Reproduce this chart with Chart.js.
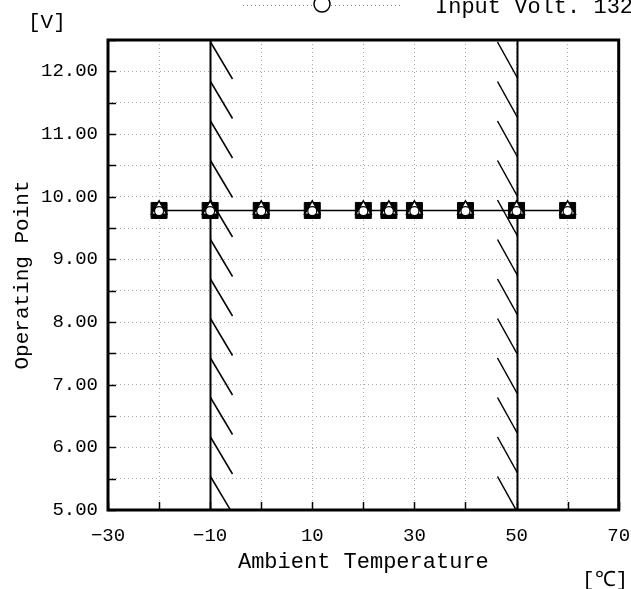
<!DOCTYPE html>
<html>
<head>
<meta charset="utf-8">
<script src="https://cdn.jsdelivr.net/npm/chart.js@4.4.1/dist/chart.umd.min.js"></script>
<style>
  html, body { margin: 0; padding: 0; background: #fff; }
  #wrap { width: 631px; height: 589px; position: relative; }
</style>
</head>
<body>
<div id="wrap"><canvas id="chart" width="631" height="589"></canvas></div>
<script>
// Ambient temperature points [°C]
const temps = [-20, -10, 0, 10, 20, 25, 30, 40, 50, 60];
// Operating point [V] for each input voltage
const voltSquare = [9.78, 9.78, 9.78, 9.78, 9.78, 9.78, 9.78, 9.78, 9.78, 9.78];
const voltTriangle = [9.79, 9.79, 9.79, 9.79, 9.79, 9.79, 9.79, 9.79, 9.79, 9.79];
const voltCircle = [9.77, 9.77, 9.77, 9.77, 9.77, 9.77, 9.77, 9.77, 9.77, 9.77];
// Guaranteed temperature limits (hatched lines)
const limits = [-10, 50];
const xTickLabels = [-30, -10, 10, 30, 50, 70];
const yTickLabels = [5, 6, 7, 8, 9, 10, 11, 12];

const FONT = '"Liberation Mono", "DejaVu Sans Mono", monospace';

function toPoints(values) {
  return temps.map((t, i) => ({ x: t, y: values[i] }));
}

// Frame, inward ticks, hatched limit lines, legend and unit labels
const decorPlugin = {
  id: 'decor',
  beforeDatasetsDraw(chart) {
    const { ctx, chartArea: a, scales: { x } } = chart;
    ctx.save();
    ctx.strokeStyle = '#000';
    // limit lines with hatches
    limits.forEach((lim, idx) => {
      const px = Math.round(x.getPixelForValue(lim)) + 0.5;
      ctx.lineWidth = 2;
      ctx.beginPath();
      ctx.moveTo(px, a.top);
      ctx.lineTo(px, a.bottom);
      ctx.stroke();
      ctx.lineWidth = 1.5;
      ctx.save();
      ctx.beginPath();
      ctx.rect(a.left, a.top, a.right - a.left, a.bottom - a.top);
      ctx.clip();
      for (let yy = a.top + 2; yy < a.bottom; yy += 39.5) {
        ctx.beginPath();
        if (idx === 0) {
          ctx.moveTo(px, yy);
          ctx.lineTo(px + 22, yy + 37);
        } else {
          ctx.moveTo(px - 20, yy);
          ctx.lineTo(px, yy + 36);
        }
        ctx.stroke();
      }
      ctx.restore();
    });
    ctx.restore();
  },
  afterDraw(chart) {
    const { ctx, chartArea: a, scales: { x, y } } = chart;
    ctx.save();
    ctx.strokeStyle = '#000';
    // inward ticks
    ctx.lineWidth = 1.5;
    x.ticks.forEach(t => {
      const px = Math.round(x.getPixelForValue(t.value)) + 0.5;
      ctx.beginPath();
      ctx.moveTo(px, a.bottom);
      ctx.lineTo(px, a.bottom - 8);
      ctx.stroke();
    });
    y.ticks.forEach(t => {
      const py = Math.round(y.getPixelForValue(t.value)) + 0.5;
      ctx.beginPath();
      ctx.moveTo(a.left, py);
      ctx.lineTo(a.left + 8, py);
      ctx.stroke();
    });
    // frame
    ctx.lineWidth = 3;
    ctx.strokeRect(a.left, a.top, a.right - a.left, a.bottom - a.top);

    // partial legend at the top
    ctx.lineWidth = 1;
    ctx.strokeStyle = '#888';
    ctx.setLineDash([1, 3]);
    ctx.beginPath();
    ctx.moveTo(243, 5.5);
    ctx.lineTo(403, 5.5);
    ctx.stroke();
    ctx.setLineDash([]);
    ctx.strokeStyle = '#000';
    ctx.lineWidth = 1.5;
    ctx.fillStyle = '#fff';
    ctx.beginPath();
    ctx.arc(322, 4, 8, 0, Math.PI * 2);
    ctx.fill();
    ctx.stroke();
    ctx.fillStyle = '#000';
    ctx.font = '22px ' + FONT;
    ctx.textBaseline = 'alphabetic';
    ctx.textAlign = 'left';
    ctx.fillText('Input Volt. 132V', 435, 13);

    // units
    ctx.font = '21px ' + FONT;
    ctx.fillText('[V]', 28, 28);
    ctx.fillText('[℃]', 582, 586);
    ctx.restore();
  }
};

new Chart(document.getElementById('chart'), {
  type: 'scatter',
  data: {
    datasets: [
      {
        label: 'Square',
        data: toPoints(voltSquare),
        order: 3,
        showLine: true,
        borderWidth: 1.5,
        borderColor: '#000',
        pointStyle: 'rect',
        pointRadius: 11.3,
        pointBorderWidth: 1,
        pointBackgroundColor: '#000',
        pointBorderColor: '#000'
      },
      {
        label: 'Triangle',
        data: toPoints(voltTriangle),
        order: 2,
        showLine: false,
        pointStyle: 'triangle',
        pointRadius: 9,
        pointBorderWidth: 1.5,
        pointBackgroundColor: '#fff',
        pointBorderColor: '#000'
      },
      {
        label: 'Circle',
        data: toPoints(voltCircle),
        order: 1,
        showLine: false,
        pointStyle: 'circle',
        pointRadius: 4.5,
        pointBorderWidth: 1.2,
        pointBackgroundColor: '#fff',
        pointBorderColor: '#000'
      }
    ]
  },
  options: {
    responsive: false,
    animation: false,
    layout: { padding: { top: 40, right: 12, left: 0, bottom: 0 } },
    plugins: {
      legend: { display: false },
      tooltip: { enabled: false }
    },
    scales: {
      x: {
        type: 'linear',
        min: -30,
        max: 70,
        afterFit(scale) {
          scale.height = 79;
          scale.paddingLeft = 0;
          scale.paddingRight = 0;
        },
        ticks: {
          stepSize: 10,
          padding: 15,
          color: '#000',
          font: { family: FONT, size: 19 },
          maxRotation: 0,
          autoSkip: false,
          callback: v => xTickLabels.includes(v) ? String(v).replace('-', '−') : ''
        },
        grid: {
          color: '#aaa',
          lineWidth: 1,
          tickLength: 0,
          drawTicks: false
        },
        border: { display: false, dash: [1, 3] },
        title: {
          display: true,
          text: 'Ambient Temperature',
          color: '#000',
          font: { family: FONT, size: 22 },
          padding: { top: 0, bottom: 14 }
        }
      },
      y: {
        type: 'linear',
        min: 5,
        max: 12.5,
        afterFit(scale) { scale.width = 108; },
        ticks: {
          stepSize: 0.5,
          padding: 10,
          color: '#000',
          font: { family: FONT, size: 19 },
          autoSkip: false,
          callback: v => yTickLabels.includes(v) ? v.toFixed(2) : ''
        },
        grid: {
          color: '#aaa',
          lineWidth: 1,
          tickLength: 0,
          drawTicks: false
        },
        border: { display: false, dash: [1, 3] },
        title: {
          display: true,
          text: 'Operating Point',
          color: '#000',
          font: { family: FONT, size: 21 },
          padding: { top: 10, bottom: 0 }
        }
      }
    }
  },
  plugins: [decorPlugin]
});
</script>
</body>
</html>
